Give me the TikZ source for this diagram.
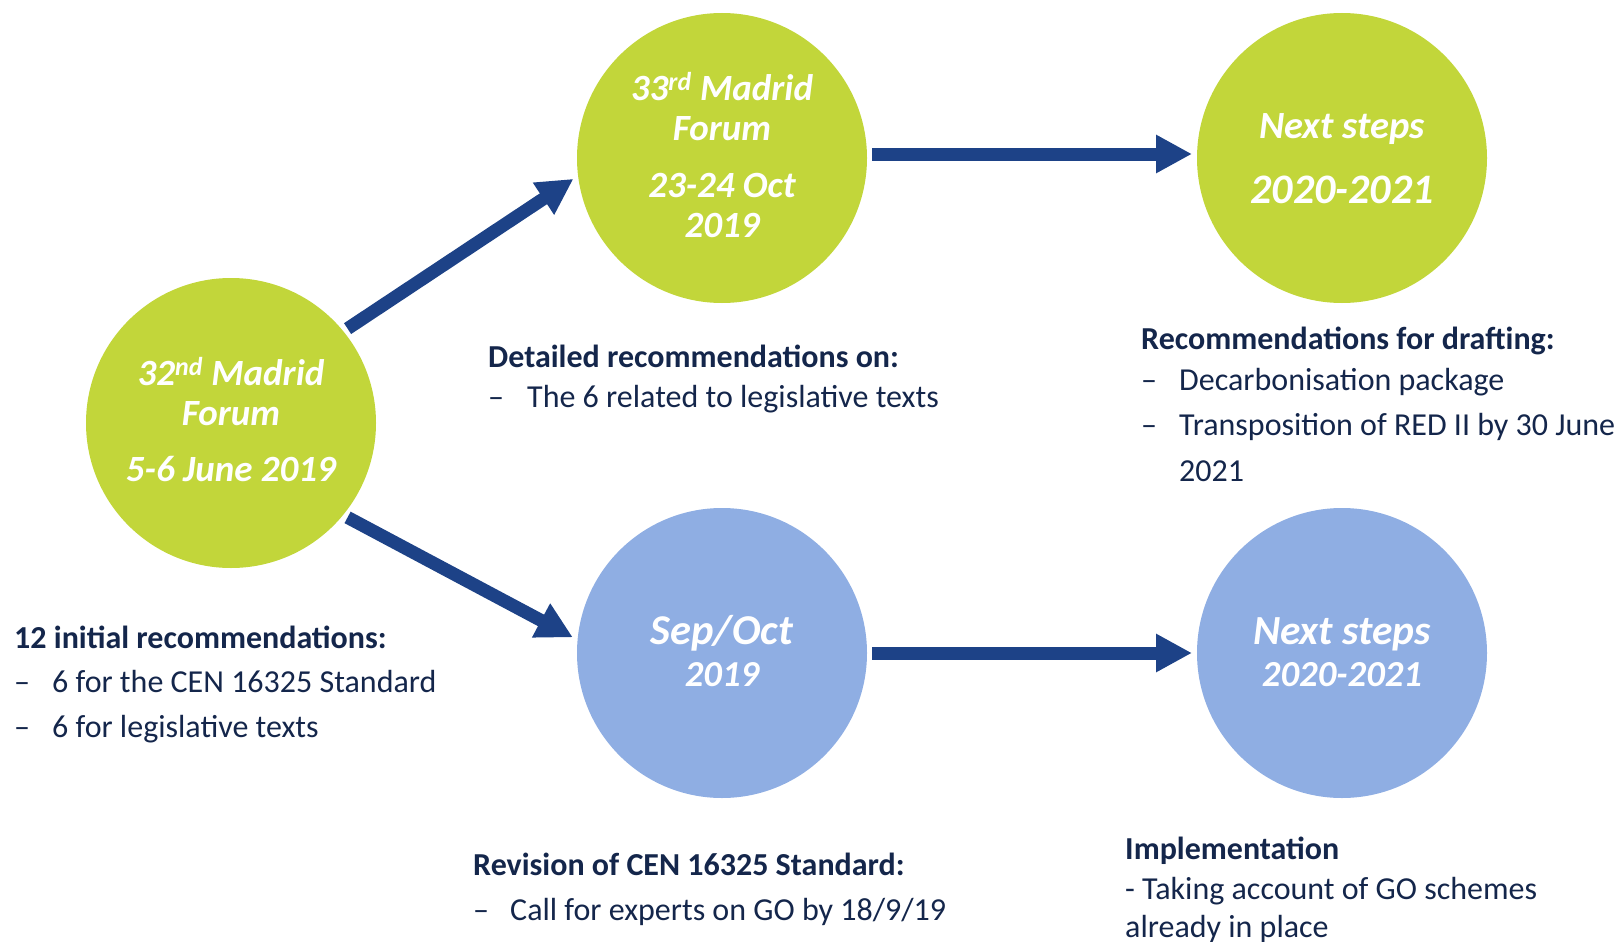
\documentclass[tikz,border=0pt]{standalone}
\usepackage{fontspec}
\setmainfont{Carlito}
\usetikzlibrary{arrows.meta}
\definecolor{lime}{HTML}{C2D63A}
\definecolor{sky}{HTML}{8FAEE3}
\definecolor{navyarrow}{HTML}{1D4287}
\definecolor{navytext}{HTML}{14264B}
\begin{document}
\begin{tikzpicture}[x=1pt,y=-1pt,
  disc/.style={circle,minimum size=290pt,inner sep=0pt,outer sep=5pt},
  limedisc/.style={disc,fill=lime},
  skydisc/.style={disc,fill=sky},
  flow/.style={draw=navyarrow,line width=13pt,-{Triangle[length=36pt,width=36pt]}},
  disctext/.style={anchor=base,inner sep=0pt,text=white,font=\bfseries\itshape\fontsize{#1}{#1}\selectfont},
  body/.style={anchor=base west,inner sep=0pt,text=navytext,font=\fontsize{32}{38}\selectfont},
  head/.style={anchor=base west,inner sep=0pt,text=navytext,font=\bfseries\fontsize{32}{38}\selectfont},
]
\useasboundingbox (0,0) rectangle (1618,942);

% discs
\node[limedisc] (c1) at (231,423) {};
\node[limedisc] (c2) at (722,158) {};
\node[limedisc] (c3) at (1342,158) {};
\node[skydisc]  (c4) at (722,653) {};
\node[skydisc]  (c5) at (1342,653) {};

% disc captions
\node[disctext=37] (c1a) at (231,385) {32\textsuperscript{nd} Madrid};
\node[disctext=37] (c1b) at (231,425) {Forum};
\node[disctext=37] (c1c) at (231,481) {5-6 June 2019};

\node[disctext=37] (c2a) at (722,100) {33\textsuperscript{rd} Madrid};
\node[disctext=37] (c2b) at (722,140) {Forum};
\node[disctext=37] (c2c) at (722,197) {23-24 Oct};
\node[disctext=37] (c2d) at (722,237) {2019};

\node[disctext=38.5] (c3a) at (1342,139) {Next steps};
\node[disctext=42] (c3b) at (1342,203) {2020-2021};

\node[disctext=42.5] (c4a) at (722,644) {Sep/Oct};
\node[disctext=36.6] (c4b) at (722,686) {2019};

\node[disctext=41.4] (c5a) at (1342,644) {Next steps};
\node[disctext=36.7] (c5b) at (1342,686) {2020-2021};

% connectors
\draw[flow] (c1.39) -- (c2.188.8);
\draw[flow] (c1.-39) -- (c4.174);
\draw[flow] ([yshift=4pt]c2.east) -- ([yshift=4pt]c3.west);
\draw[flow] (c4.east) -- (c5.west);

% notes
\node[head] (n1a) at (14,648) {12 initial recommendations:};
\node[body] (n1b) at (14,692) {\makebox[38pt][l]{–}6 for the CEN 16325 Standard};
\node[body] (n1c) at (14,737) {\makebox[38pt][l]{–}6 for legislative texts};

\node[head] (n2a) at (488,367) {Detailed recommendations on:};
\node[body] (n2b) at (488,407) {\makebox[39pt][l]{–}The 6 related to legislative texts};

\node[head] (n3a) at (1141,349) {Recommendations for drafting:};
\node[body] (n3b) at (1141,390) {\makebox[38pt][l]{–}Decarbonisation package};
\node[body] (n3c) at (1141,435) {\makebox[38pt][l]{–}Transposition of RED II by 30 June};
\node[body] (n3d) at (1179,481) {2021};

\node[head] (n4a) at (473,875) {Revision of CEN 16325 Standard:};
\node[body] (n4b) at (473,920) {\makebox[37pt][l]{–}Call for experts on GO by 18/9/19};

\node[head] (n5a) at (1125,859) {Implementation};
\node[body] (n5b) at (1125,899) {- Taking account of GO schemes};
\node[body] (n5c) at (1125,937) {already in place};
\end{tikzpicture}
\end{document}
